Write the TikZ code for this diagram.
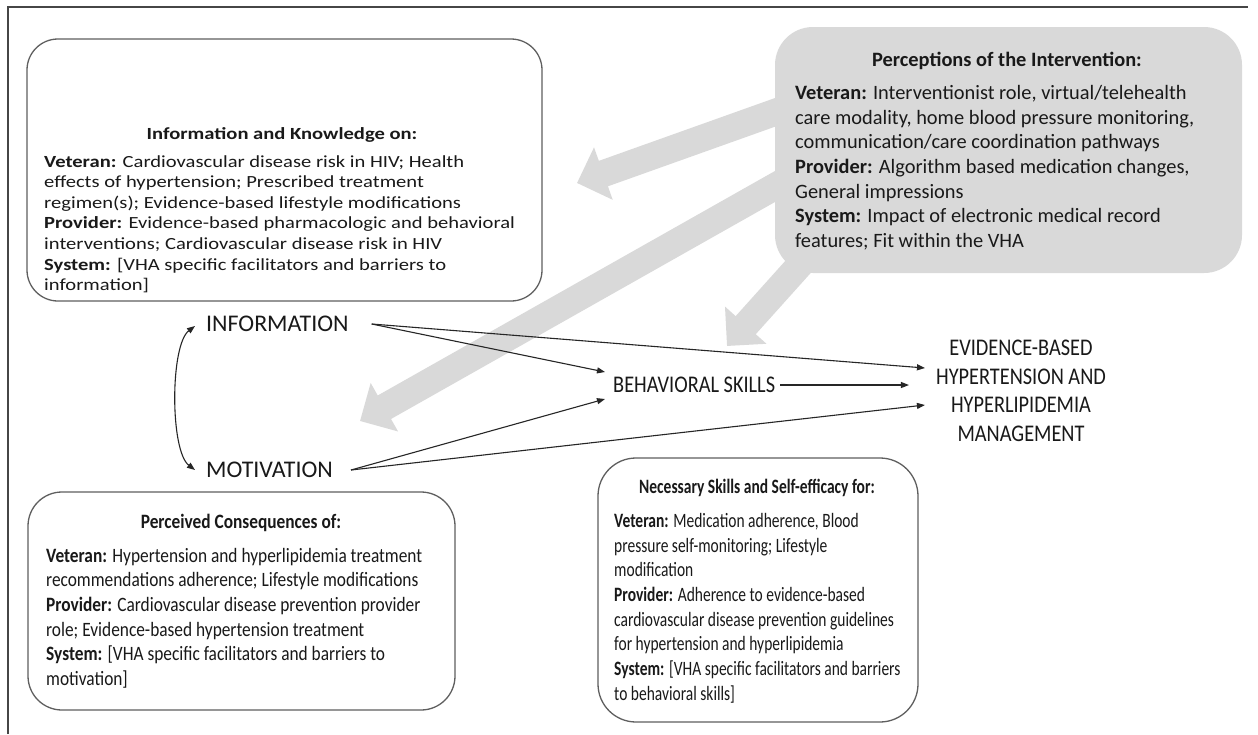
\documentclass[tikz,border=0pt]{standalone}
\usepackage{fontspec}
\setmainfont{Carlito}
\newfontfamily\fA[FakeStretch=1.21]{Carlito}
\newfontfamily\fG{Carlito}
\newfontfamily\fC[FakeStretch=0.85]{Carlito}
\newfontfamily\fD[FakeStretch=0.76]{Carlito}
\newfontfamily\fE[FakeStretch=0.85]{Carlito}
\usetikzlibrary{arrows.meta}
\definecolor{pgray}{RGB}{217,217,217}
\definecolor{lgray}{RGB}{95,95,95}
\definecolor{fgray}{RGB}{70,70,70}
\definecolor{txt}{RGB}{25,25,25}
\begin{document}
\begin{tikzpicture}[x=1pt,y=-1pt,
  box/.style={draw=lgray,line width=1.3pt,rounded corners=38pt,inner sep=0pt},
  body/.style={anchor=north west,inner sep=0pt,align=left,text=txt},
  head/.style={anchor=base,inner sep=0pt,text=txt},
  bodyA/.style={body,font=\fA\fontsize{17.0}{20.6}\selectfont},
  headA/.style={head,font=\fA\fontsize{17.0}{20.6}\selectfont\bfseries},
  bodyG/.style={body,font=\fG\fontsize{20.4}{24.7}\selectfont},
  headG/.style={head,font=\fG\fontsize{20.4}{24.7}\selectfont\bfseries},
  bodyC/.style={body,font=\fC\fontsize{20.4}{24.6}\selectfont},
  headC/.style={head,font=\fC\fontsize{20.4}{24.6}\selectfont\bfseries},
  bodyD/.style={body,font=\fD\fontsize{20.4}{24.7}\selectfont},
  headD/.style={head,font=\fD\fontsize{20.4}{24.7}\selectfont\bfseries},
  big/.style={inner sep=0pt,text=txt,font=\fontsize{23.9}{28.5}\selectfont},
  bigc/.style={inner sep=0pt,text=txt,font=\fE\fontsize{23.9}{28.5}\selectfont},
  thin/.style={draw=black!85,line width=1.1pt,-{Triangle[length=8pt,width=6pt]}},
  fat/.style={draw=pgray,line width=27pt,-{Triangle[length=28pt,width=54pt]}},
]
\useasboundingbox (0,0) rectangle (1258,734);
\fill[white] (0,0) rectangle (1258,734);
% frame
\draw[fgray,line width=2pt] (8,734) -- (8,7) -- (1248,7);

% gray arrows
\coordinate (gA0) at (790,107); \coordinate (gA1) at (577,183);
\coordinate (gB0) at (790,178); \coordinate (gB1) at (360,421);
\coordinate (gC0) at (815,248); \coordinate (gC1) at (727,346);
\draw[fat] (gA0) -- (gA1);
\draw[fat] (gB0) -- (gB1);
\draw[fat] (gC0) -- (gC1);

% boxes
\node[box,fill=pgray,draw=none,minimum width=467pt,minimum height=246pt] (perc) at (1008.5,150) {};
\node[box,minimum width=515pt,minimum height=262pt,rounded corners=31pt] (infobox) at (284.5,170) {};
\node[box,minimum width=427pt,minimum height=218pt,rounded corners=34pt] (motbox) at (241.5,601) {};
\node[box,minimum width=320pt,minimum height=264pt] (skillbox) at (758,590) {};

% box texts
\node[headA] (h1) at (282,139) {Information and Knowledge on:};
\node[bodyA] (b1) at (44,155) {\textbf{Veteran:} Cardiovascular disease risk in HIV; Health\\
effects of hypertension; Prescribed treatment\\
regimen(s); Evidence-based lifestyle modifications\\
\textbf{Provider:} Evidence-based pharmacologic and behavioral\\
interventions; Cardiovascular disease risk in HIV\\
\textbf{System:} [VHA specific facilitators and barriers to\\
information]};

\node[headG] (h2) at (1007,66) {Perceptions of the Intervention:};
\node[bodyG] (b2) at (795,85) {\textbf{Veteran:} Interventionist role, virtual/telehealth\\
care modality, home blood pressure monitoring,\\
communication/care coordination pathways\\
\textbf{Provider:} Algorithm based medication changes,\\
General impressions\\
\textbf{System:} Impact of electronic medical record\\
features; Fit within the VHA};

\node[headC] (h3) at (241,528) {Perceived Consequences of:};
\node[bodyC] (b3) at (46,548) {\textbf{Veteran:} Hypertension and hyperlipidemia treatment\\
recommendations adherence; Lifestyle modifications\\
\textbf{Provider:} Cardiovascular disease prevention provider\\
role; Evidence-based hypertension treatment\\
\textbf{System:} [VHA specific facilitators and barriers to\\
motivation]};

\node[headD] (h4) at (757,493) {Necessary Skills and Self-efficacy for:};
\node[bodyD] (b4) at (614,513) {\textbf{Veteran:} Medication adherence, Blood\\
pressure self-monitoring; Lifestyle\\
modification\\
\textbf{Provider:} Adherence to evidence-based\\
cardiovascular disease prevention guidelines\\
for hypertension and hyperlipidemia\\
\textbf{System:} [VHA specific facilitators and barriers\\
to behavioral skills]};

% main labels
\node[big,anchor=west] (info) at (206,324) {INFORMATION};
\node[big,anchor=west] (moti) at (206,470) {MOTIVATION};
\node[bigc,anchor=west] (beh) at (613,385) {BEHAVIORAL SKILLS};
\node[bigc,align=center] (ebm) at (1021,391) {EVIDENCE-BASED\\HYPERTENSION AND\\HYPERLIPIDEMIA\\MANAGEMENT};

% thin arrows
\draw[thin] ([shift={(23,0)}]info.east) -- ([shift={(-8,-13)}]beh.west);
\draw[thin] ([shift={(23,0)}]info.east) -- ([shift={(-11,-23)}]ebm.west);
\draw[thin] ([shift={(18,0)}]moti.east) -- ([shift={(-8,14)}]beh.west);
\draw[thin] ([shift={(18,0)}]moti.east) -- ([shift={(-11,14)}]ebm.west);
\path (beh.east -| ebm.west) coordinate (behend);
\draw[thin] ([shift={(5,0)}]beh.east) -- ([shift={(-27,0)}]behend);
\draw[thin,{Triangle[length=8pt,width=6pt]}-{Triangle[length=8pt,width=6pt]}] ([shift={(-11,2)}]info.west) .. controls +(-25,19) and +(-25,-19) .. ([shift={(-11,0)}]moti.west);
\end{tikzpicture}
\end{document}
